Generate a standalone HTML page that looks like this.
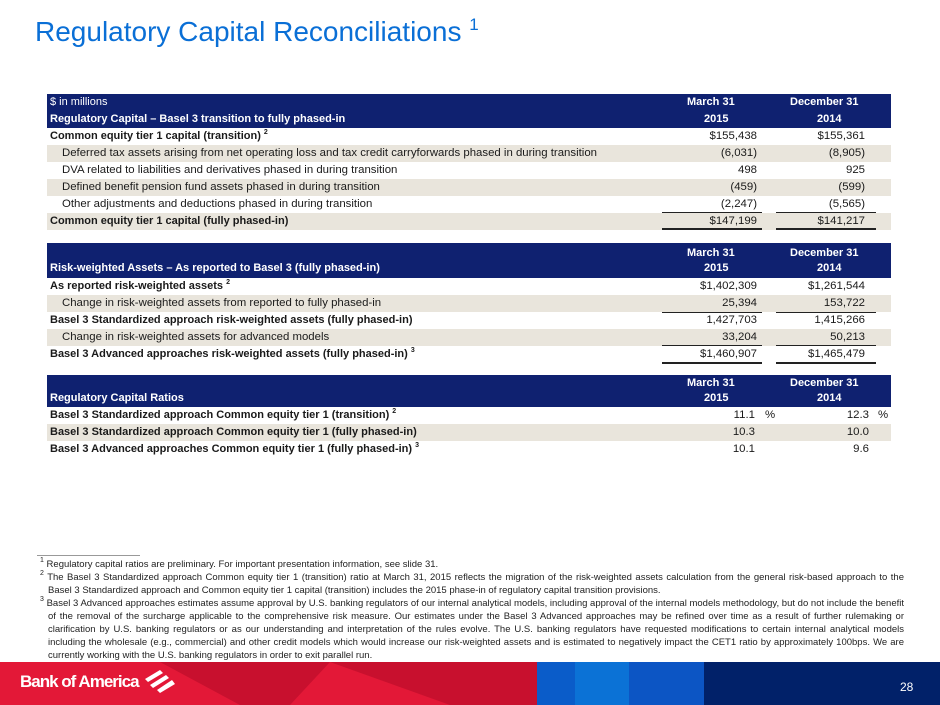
<!DOCTYPE html>
<html><head><meta charset="utf-8"><style>
*{margin:0;padding:0;box-sizing:border-box}
body{width:940px;height:705px;position:relative;background:#fff;font-family:"Liberation Sans",sans-serif;color:#1a1a1a;overflow:hidden}
.a{position:absolute;white-space:nowrap}
.title{left:35px;top:16px;font-size:28px;color:#0a6fd6}
.title sup{font-size:17px;vertical-align:11px;line-height:0}
.hd{position:absolute;left:47px;width:844px;background:#0f2170;color:#fff;font-weight:bold;font-size:11px}
.row{position:absolute;left:47px;width:844px;height:17px;font-size:11.4px;line-height:17px}
.sh{background:#e9e5dc}
.row .l{position:absolute;left:3px}
.row .i{left:15px}
.row b{font-weight:bold;font-size:11px}
.v1{position:absolute;right:134px;text-align:right}
.v2{position:absolute;right:26px;text-align:right}
.u1{position:absolute;left:662px;width:100px;height:0;border-top:1px solid #222}
.u2{position:absolute;left:776px;width:100px;height:0;border-top:1px solid #222}
.d{border-top:2px solid #222}
sup.s{font-size:7px;line-height:0;vertical-align:baseline;position:relative;top:-5px}
.fn{position:absolute;left:40px;width:864px;font-size:9.5px;line-height:13px;color:#222;text-align:justify}
.fn p{position:relative}
</style></head><body>
<div class="a title">Regulatory Capital Reconciliations <sup>1</sup></div>

<!-- Table 1 -->
<div class="hd" style="top:94px;height:34px">
<div class="a" style="left:3px;top:2px;font-weight:normal">$ in millions</div>
<div class="a" style="left:3px;top:19px">Regulatory Capital – Basel 3 transition to fully phased-in</div>
<div class="a" style="left:640px;top:2px">March 31</div><div class="a" style="left:657px;top:19px">2015</div>
<div class="a" style="left:743px;top:2px">December 31</div><div class="a" style="left:770px;top:19px">2014</div>
</div>
<div class="row" style="top:128px"><span class="l"><b>Common equity tier 1 capital (transition) <sup class="s">2</sup></b></span><span class="v1">$155,438</span><span class="v2">$155,361</span></div>
<div class="row sh" style="top:145px"><span class="l i">Deferred tax assets arising from net operating loss and tax credit carryforwards phased in during transition</span><span class="v1">(6,031)</span><span class="v2">(8,905)</span></div>
<div class="row" style="top:162px"><span class="l i">DVA related to liabilities and derivatives phased in during transition</span><span class="v1">498</span><span class="v2">925</span></div>
<div class="row sh" style="top:179px"><span class="l i">Defined benefit pension fund assets phased in during transition</span><span class="v1">(459)</span><span class="v2">(599)</span></div>
<div class="row" style="top:196px"><span class="l i">Other adjustments and deductions phased in during transition</span><span class="v1">(2,247)</span><span class="v2">(5,565)</span></div>
<div class="row sh" style="top:213px"><span class="l"><b>Common equity tier 1 capital (fully phased-in)</b></span><span class="v1">$147,199</span><span class="v2">$141,217</span></div>
<div class="u1" style="top:212px"></div><div class="u2" style="top:212px"></div>
<div class="u1 d" style="top:228px"></div><div class="u2 d" style="top:228px"></div>

<!-- Table 2 -->
<div class="hd" style="top:243px;height:35px">
<div class="a" style="left:3px;top:19px">Risk-weighted Assets – As reported to Basel 3 (fully phased-in)</div>
<div class="a" style="left:640px;top:4px">March 31</div><div class="a" style="left:657px;top:19px">2015</div>
<div class="a" style="left:743px;top:4px">December 31</div><div class="a" style="left:770px;top:19px">2014</div>
</div>
<div class="row" style="top:278px"><span class="l"><b>As reported risk-weighted assets <sup class="s">2</sup></b></span><span class="v1">$1,402,309</span><span class="v2">$1,261,544</span></div>
<div class="row sh" style="top:295px"><span class="l i">Change in risk-weighted assets from reported to fully phased-in</span><span class="v1">25,394</span><span class="v2">153,722</span></div>
<div class="row" style="top:312px"><span class="l"><b>Basel 3 Standardized approach risk-weighted assets (fully phased-in)</b></span><span class="v1">1,427,703</span><span class="v2">1,415,266</span></div>
<div class="row sh" style="top:329px"><span class="l i">Change in risk-weighted assets for advanced models</span><span class="v1">33,204</span><span class="v2">50,213</span></div>
<div class="row" style="top:346px"><span class="l"><b>Basel 3 Advanced approaches risk-weighted assets (fully phased-in) <sup class="s">3</sup></b></span><span class="v1">$1,460,907</span><span class="v2">$1,465,479</span></div>
<div class="u1" style="top:312px"></div><div class="u2" style="top:312px"></div>
<div class="u1" style="top:345px"></div><div class="u2" style="top:345px"></div>
<div class="u1 d" style="top:362px"></div><div class="u2 d" style="top:362px"></div>

<!-- Table 3 -->
<div class="hd" style="top:375px;height:32px">
<div class="a" style="left:3px;top:17px">Regulatory Capital Ratios</div>
<div class="a" style="left:640px;top:2px">March 31</div><div class="a" style="left:657px;top:17px">2015</div>
<div class="a" style="left:743px;top:2px">December 31</div><div class="a" style="left:770px;top:17px">2014</div>
</div>
<div class="row" style="top:407px"><span class="l"><b>Basel 3 Standardized approach Common equity tier 1 (transition) <sup class="s">2</sup></b></span><span class="v1" style="right:136px">11.1</span><span class="a" style="left:718px">%</span><span class="v2" style="right:22px">12.3</span><span class="a" style="left:831px">%</span></div>
<div class="row sh" style="top:424px"><span class="l"><b>Basel 3 Standardized approach Common equity tier 1 (fully phased-in)</b></span><span class="v1" style="right:136px">10.3</span><span class="v2" style="right:22px">10.0</span></div>
<div class="row" style="top:441px"><span class="l"><b>Basel 3 Advanced approaches Common equity tier 1 (fully phased-in) <sup class="s">3</sup></b></span><span class="v1" style="right:136px">10.1</span><span class="v2" style="right:22px">9.6</span></div>

<!-- Footnotes -->
<div class="a" style="left:37px;top:555px;width:103px;border-top:1px solid #999"></div>
<div class="fn" style="top:558px">
<p><sup class="s">1</sup> Regulatory capital ratios are preliminary. For important presentation information, see slide 31.</p>
<p style="padding-left:8px;text-indent:-8px"><sup class="s">2</sup> The Basel 3 Standardized approach Common equity tier 1 (transition) ratio at March 31, 2015 reflects the migration of the risk-weighted assets calculation from the general risk-based approach to the Basel 3 Standardized approach and Common equity tier 1 capital (transition) includes the 2015 phase-in of regulatory capital transition provisions.</p>
<p style="padding-left:8px;text-indent:-8px"><sup class="s">3</sup> Basel 3 Advanced approaches estimates assume approval by U.S. banking regulators of our internal analytical models, including approval of the internal models methodology, but do not include the benefit of the removal of the surcharge applicable to the comprehensive risk measure. Our estimates under the Basel 3 Advanced approaches may be refined over time as a result of further rulemaking or clarification by U.S. banking regulators or as our understanding and interpretation of the rules evolve. The U.S. banking regulators have requested modifications to certain internal analytical models including the wholesale (e.g., commercial) and other credit models which would increase our risk-weighted assets and is estimated to negatively impact the CET1 ratio by approximately 100bps. We are currently working with the U.S. banking regulators in order to exit parallel run.</p>
</div>

<!-- Footer -->
<svg class="a" style="left:0;top:662px" width="940" height="43">
<rect x="0" y="0" width="940" height="43" fill="#e31837"/>
<polygon points="160,0 330,0 290,43 240,43" fill="#c8102e"/>
<polygon points="330,0 540,0 540,43 450,43" fill="#c8102e"/>
<rect x="537" y="0" width="40" height="43" fill="#0a5cc9"/>
<rect x="575" y="0" width="55" height="43" fill="#0b72d6"/>
<rect x="629" y="0" width="75" height="43" fill="#0c55c4"/>
<rect x="704" y="0" width="236" height="43" fill="#012169"/>
<g fill="#fff"><polygon points="145,17 160,8 163,11 148,20"/><polygon points="150,23 166,13 169,16 153,26"/><polygon points="157,28 172,18 175,22 160,31"/></g>
</svg>
<div class="a" style="left:20px;top:672px;font-size:17px;font-weight:bold;color:#fff;letter-spacing:-1px">Bank of America</div>
<div class="a" style="left:900px;top:680px;font-size:12px;color:#fff">28</div>
</body></html>
